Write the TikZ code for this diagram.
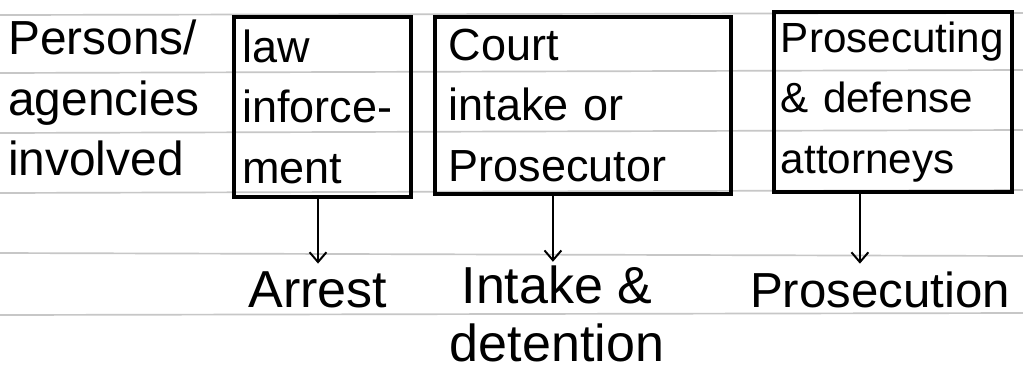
\documentclass[tikz,border=0pt]{standalone}
\usepackage{fontspec}
\setmainfont{Liberation Sans}
\usetikzlibrary{arrows.meta,calc}
\begin{document}
\begin{tikzpicture}[x=0.025cm,y=-0.025cm,
  rule/.style={draw=black!22,line width=1.2pt},
  hand/.style={font=\fontsize{32}{43}\selectfont,inner sep=0pt},
  box/.style={draw,line width=2.6pt,hand,align=left,anchor=north west,
    inner xsep=6pt,inner ysep=0pt},
  arr/.style={line width=1.4pt,-{Straight Barb[length=7pt,width=12pt,line width=1.4pt]}},
  lbl/.style={hand,align=center,font=\fontsize{37}{41}\selectfont}]
\useasboundingbox (0,0) rectangle (1023,371);
\fill[white] (0,0) rectangle (1023,371);
% ruled paper
\foreach \y/\z in {15/13,73/70,133/130,193/190,253/256,315/313}
  \draw[rule] (0,\y) -- (1023,\z);
% left label
\node[hand,align=left,anchor=north west,font=\fontsize{34}{43}\selectfont] (who) at (8,20)
  {Persons/\\agencies\\involved};
% boxes
\node[box,minimum width=4.4cm,minimum height=4.5cm,text width=4.0cm] (law) at (232,15)
  {law\\inforce-\\ment};
\node[box,minimum width=7.15cm,minimum height=4.43cm,text width=6.7cm,inner xsep=10pt] (court) at (433,15)
  {Court\\intake or\\Prosecutor};
\node[box,minimum width=5.95cm,minimum height=4.5cm,text width=5.6cm,inner xsep=5pt,
  font=\fontsize{30}{43}\selectfont] (atty) at (772,10)
  {Prosecuting\\\& defense\\attorneys};
% stage labels
\node[lbl] (arrest) at (318,290) {Arrest};
\node[lbl] (intake) at (557,314) {Intake \&\\detention};
\node[lbl,font=\fontsize{35}{41}\selectfont] (prosecution) at (880,290) {Prosecution};
% connectors
\draw[arr] (law.south -| arrest.north) -- ($(arrest.north)+(0,-8)$);
\coordinate (c2) at ($(court.south)+(-30,0)$);
\draw[arr] (c2) -- ($(c2 |- intake.north)+(0,-4)$);
\coordinate (c3) at ($(atty.south)+(-33,0)$);
\draw[arr] (c3) -- ($(c3 |- prosecution.north)+(0,-8)$);
\end{tikzpicture}
\end{document}
